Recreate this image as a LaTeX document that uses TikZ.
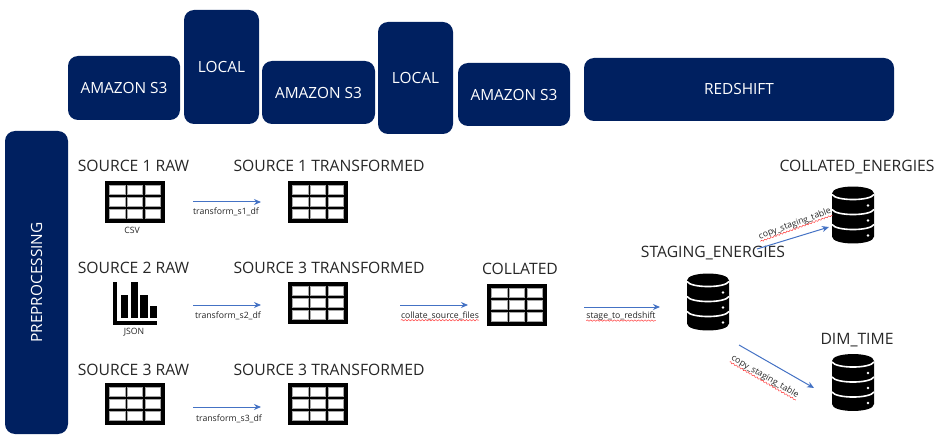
\documentclass[tikz,border=0pt]{standalone}
\usepackage{fontspec}
\setmainfont{Open Sans}
\usetikzlibrary{arrows.meta,decorations.pathmorphing}
\definecolor{navyfill}{HTML}{002060}
\definecolor{arrowblue}{HTML}{4472C4}
\tikzset{
    navybox/.style={fill=navyfill, rounded corners=10pt, text=white, font=\fontsize{15.4}{18}\selectfont, align=center, inner sep=0pt},
    title/.style={font=\fontsize{15.7}{19}\selectfont, text=black!85, inner sep=0pt},
    small/.style={font=\fontsize{8.7}{11}\selectfont, text=black!85, inner sep=0pt},
    tiny/.style={font=\fontsize{8.7}{10}\selectfont, text=black!85, inner sep=0pt},
    flow/.style={draw=arrowblue, line width=1pt, -{Stealth[length=7pt, width=6pt]}},
    squiggle/.style={draw=red!75, line width=.5pt, decorate, decoration={snake, amplitude=.7pt, segment length=3.4pt}},
    pics/tableicon/.style={code={
        \fill[black] (0,0) rectangle (60,42);
        \foreach \cx in {4.3,22,40} \foreach \cy in {4.3,16.7,28.7}
            \filldraw[fill=white, draw=black!35, line width=.6pt] (\cx,\cy) rectangle ++(15.7,9);
    }},
    pics/chartblocks/.style={code={
        \fill[black] (0,0) rectangle (3.4,43.3);
        \fill[black] (0,39.3) rectangle (44,43.3);
        \fill[black] (7.7,13.3) rectangle ++(7.3,22.7);
        \fill[black] (17.3,0) rectangle ++(7.3,36);
        \fill[black] (27,13.3) rectangle ++(7.3,22.7);
        \fill[black] (36.7,24.3) rectangle ++(7.3,11.7);
    }},
    pics/dbicon/.style={code={
        \fill[black] (0,7) .. controls (0,-2.3) and (42,-2.3) .. (42,7) -- (42,50) .. controls (42,59.3) and (0,59.3) .. (0,50) -- cycle;
        \foreach \ly in {8,23,38}
            \draw[white, line width=1.6pt] (0,\ly) .. controls (4,\ly+6.7) and (38,\ly+6.7) .. (42,\ly);
        \foreach \ly in {19,34,49}
            \fill[white] (36,\ly) circle (1.4pt);
    }}
}
\begin{document}
\begin{tikzpicture}[x=1pt, y=-1pt]
    \useasboundingbox (0,0) rectangle (943,441);

    % Storage banner along the top
    \node[navybox, minimum width=112pt, minimum height=64pt] (s3a) at (124,88) {AMAZON S3};
    \node[navybox, minimum width=75pt, minimum height=114pt] (locala) at (221.5,67) {LOCAL};
    \node[navybox, minimum width=113pt, minimum height=63pt] (s3b) at (318.5,92.5) {AMAZON S3};
    \node[navybox, minimum width=75pt, minimum height=112pt] (localb) at (415.5,78) {LOCAL};
    \node[navybox, minimum width=112pt, minimum height=63pt] (s3c) at (514,94.5) {AMAZON S3};
    \node[navybox, minimum width=310pt, minimum height=63pt] (redshift) at (739,89.5) {REDSHIFT};

    % Side banner
    \node[navybox, rotate=90, minimum width=303pt, minimum height=63pt] (preprocessing) at (36.5,282.5) {PREPROCESSING};

    % Headings
    \node[title] (rawa) at (133.5,166) {SOURCE 1 RAW};
    \node[title] (rawb) at (133.5,268) {SOURCE 2 RAW};
    \node[title] (rawc) at (133.5,370) {SOURCE 3 RAW};
    \node[title] (transa) at (329,166) {SOURCE 1 TRANSFORMED};
    \node[title] (transb) at (329,268) {SOURCE 3 TRANSFORMED};
    \node[title] (transc) at (329,370) {SOURCE 3 TRANSFORMED};
    \node[title] (collated) at (520,269) {COLLATED};
    \node[title] (staging) at (713,253) {STAGING\_ENERGIES};
    \node[title] (energies) at (857,167) {COLLATED\_ENERGIES};
    \node[title] (dimtime) at (857,340) {DIM\_TIME};

    % Icons
    \pic at (105,181) {tableicon};
    \pic at (288,181) {tableicon};
    \pic at (113.3,281.7) {chartblocks};
    \pic at (288,282) {tableicon};
    \pic at (105,383) {tableicon};
    \pic at (288,383) {tableicon};
    \pic at (487,284) {tableicon};
    \pic at (687,273.5) {dbicon};
    \pic at (832,186.5) {dbicon};
    \pic at (832,354) {dbicon};
    \node[tiny] (csv) at (132,230) {CSV};
    \node[tiny] (json) at (134,332.5) {JSON};

    % Arrow ends
    \coordinate (sa) at (193,202);
    \coordinate (ta) at (261,202);
    \coordinate (sb) at (193,305);
    \coordinate (tb) at (261,305);
    \coordinate (sc) at (193,407);
    \coordinate (tc) at (261,407);
    \coordinate (sd) at (400,305);
    \coordinate (td) at (468,305);
    \coordinate (se) at (584,307);
    \coordinate (te) at (660,307);
    \coordinate (sf) at (757,249);
    \coordinate (tf) at (829,227);
    \coordinate (sg) at (739,345);
    \coordinate (tg) at (814,388);

    \draw[flow] (sa) -- (ta);
    \draw[flow] (sb) -- (tb);
    \draw[flow] (sc) -- (tc);
    \draw[flow] (sd) -- (td);
    \draw[flow] (se) -- (te);
    \draw[flow] (sf) -- (tf);
    \draw[flow] (sg) -- (tg);

    % Arrow labels
    \node[small] (tfa) at (226,212) {transform\_s1\_df};
    \node[small] (tfb) at (228,316) {transform\_s2\_df};
    \node[small] (tfc) at (229,419) {transform\_s3\_df};
    \node[small] (collate) at (440,316) {collate\_source\_files};
    \node[small] (stage) at (621,316) {stage\_to\_redshift};
    \node[small, rotate=20] (copya) at (795,224) {copy\_staging\_table};
    \node[small, rotate=-30] (copyb) at (765,377) {copy\_staging\_table};

    % Spell-check underlines
    \draw[squiggle] (collate.south west) -- (collate.south east);
    \draw[squiggle] (stage.south west) -- (stage.south east);
    \draw[squiggle] (copya.south west) -- (copya.south east);
    \draw[squiggle] (copyb.south west) -- (copyb.south east);
\end{tikzpicture}
\end{document}
